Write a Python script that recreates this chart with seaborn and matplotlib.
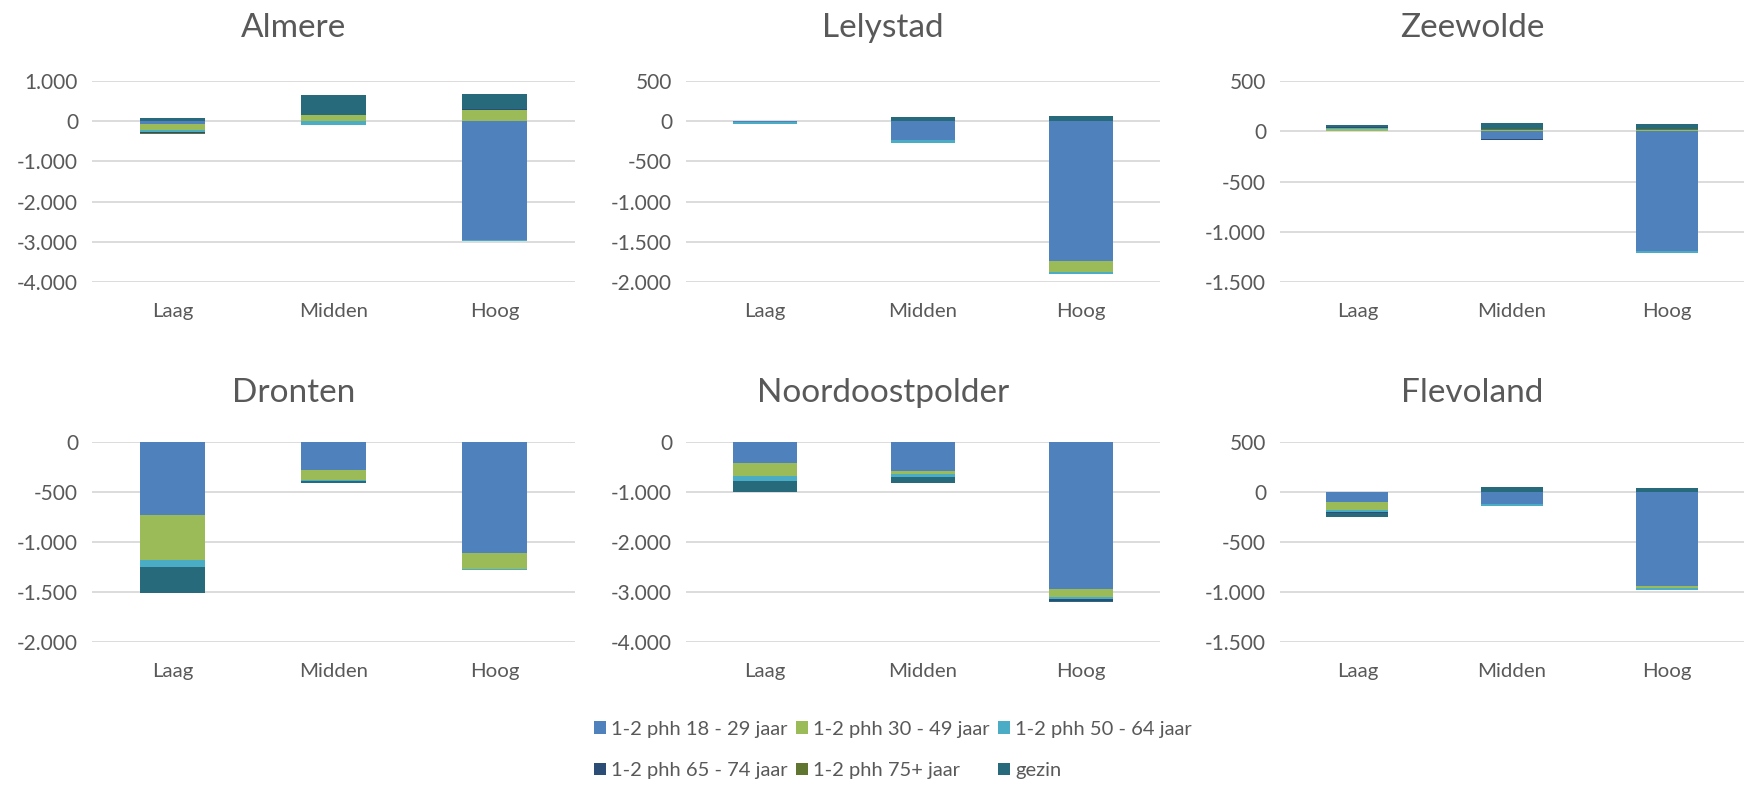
import numpy as np
import pandas as pd
import matplotlib
matplotlib.use("Agg")
import matplotlib.pyplot as plt
import seaborn as sns
from matplotlib.patches import Patch
from matplotlib.ticker import FuncFormatter

# ---------------- data ----------------
categories = ["Laag", "Midden", "Hoog"]
series_names = ["1-2 phh 18 - 29 jaar", "1-2 phh 30 - 49 jaar", "1-2 phh 50 - 64 jaar",
                "1-2 phh 65 - 74 jaar", "1-2 phh 75+ jaar", "gezin"]
series_colors = ["#4F81BD", "#9BBB59", "#4BACC6", "#2C4D75", "#5F7530", "#276A7C"]
regions = ["Almere", "Lelystad", "Zeewolde", "Dronten", "Noordoostpolder", "Flevoland"]

# values per region: rows = series (same order as series_names), cols = Laag, Midden, Hoog
almere = [[-60, 10, -2960],
          [-170, 150, 290],
          [-40, -100, -15],
          [-30, 0, 10],
          [-20, 0, 0],
          [70, 480, 370]]
lelystad = [[-5, -230, -1740],
            [0, -10, -140],
            [-30, -35, -15],
            [0, 0, 0],
            [0, 0, 0],
            [0, 55, 65]]
zeewolde = [[0, -80, -1195],
            [20, 15, 15],
            [15, 0, -12],
            [10, -10, 0],
            [0, 5, 5],
            [15, 65, 55]]
dronten = [[-733, -283, -1113],
           [-447, -100, -160],
           [-73, -8, -5],
           [0, 0, 0],
           [0, 0, 0],
           [-253, -22, 0]]
noordoostpolder = [[-413, -587, -2933],
                   [-267, -60, -175],
                   [-100, -47, -25],
                   [0, 0, -45],
                   [-5, 0, 0],
                   [-208, -120, -22]]
flevoland = [[-100, -120, -943],
             [-83, 0, -17],
             [-17, -17, -15],
             [-10, 0, 0],
             [0, 0, 0],
             [-35, 45, 35]]
region_values = [almere, lelystad, zeewolde, dronten, noordoostpolder, flevoland]

y_ranges = [(-4000, 1000, 1000), (-2000, 500, 500), (-1500, 500, 500),
            (-2000, 0, 500), (-4000, 0, 1000), (-1500, 500, 500)]

# ---------------- style ----------------
sns.set_theme(style="white")
plt.rcParams['font.family'] = ['Lato', 'DejaVu Sans']
txt = "#595959"

W, H = 1747, 787
fig = plt.figure(figsize=(W / 100, H / 100), dpi=100)

col_x = [(92, 575), (686, 1160), (1280, 1744)]
row_y = [(81, 282), (442, 642)]
title_y = [28, 393]

def fmt(v, pos):
    s = f"{abs(int(round(v))):,}".replace(",", ".")
    return ("-" + s) if v < 0 else s

for i, (name, vals) in enumerate(zip(regions, region_values)):
    r, c = divmod(i, 3)
    x0, x1 = col_x[c]
    y0, y1 = row_y[r]
    ax = fig.add_axes([x0 / W, 1 - y1 / H, (x1 - x0) / W, (y1 - y0) / H])
    vals = np.array(vals, dtype=float)
    pos_b = np.zeros(len(categories))
    neg_b = np.zeros(len(categories))
    for s_i, (sname, col) in enumerate(zip(series_names, series_colors)):
        v = vals[s_i]
        bottom = np.where(v >= 0, pos_b, neg_b)
        df = pd.DataFrame({"cat": categories, "val": v})
        sns.barplot(data=df, x="cat", y="val", order=categories, bottom=bottom,
                    color=col, width=0.4, errorbar=None, ax=ax, linewidth=0,
                    saturation=1, zorder=3)
        pos_b = pos_b + np.where(v >= 0, v, 0)
        neg_b = neg_b + np.where(v < 0, v, 0)
    lo, hi, step = y_ranges[i]
    ax.set_ylim(lo, hi)
    ax.set_yticks(np.arange(lo, hi + step / 2, step))
    ax.yaxis.set_major_formatter(FuncFormatter(fmt))
    ax.set_xlim(-0.5, 2.5)
    ax.grid(axis="y", color="#D9D9D9", linewidth=1.3, zorder=0)
    ax.set_axisbelow(True)
    for sp in ax.spines.values():
        sp.set_visible(False)
    ax.tick_params(axis="both", length=0, colors=txt)
    ax.tick_params(axis="y", labelsize=15, pad=10)
    ax.tick_params(axis="x", labelsize=14.7, pad=15)
    ax.set_xlabel("")
    ax.set_ylabel("")
    ax.set_title("")
    fig.text(((x0 + x1) / 2 - 40) / W, 1 - title_y[r] / H, name,
             ha="center", va="center", fontsize=24, color=txt)

# legend (row-wise order)
handles = [Patch(facecolor=c, edgecolor="none") for c in series_colors]
order = [0, 3, 1, 4, 2, 5]
fig.legend([handles[k] for k in order], [series_names[k] for k in order],
           ncol=3, loc="center", bbox_to_anchor=(893 / W, 1 - 750 / H),
           frameon=False, fontsize=14.5, labelcolor=txt,
           handlelength=0.6, handleheight=0.6, handletextpad=0.25,
           columnspacing=0.4, labelspacing=1.2)

fig.savefig("out.png", dpi=100)
